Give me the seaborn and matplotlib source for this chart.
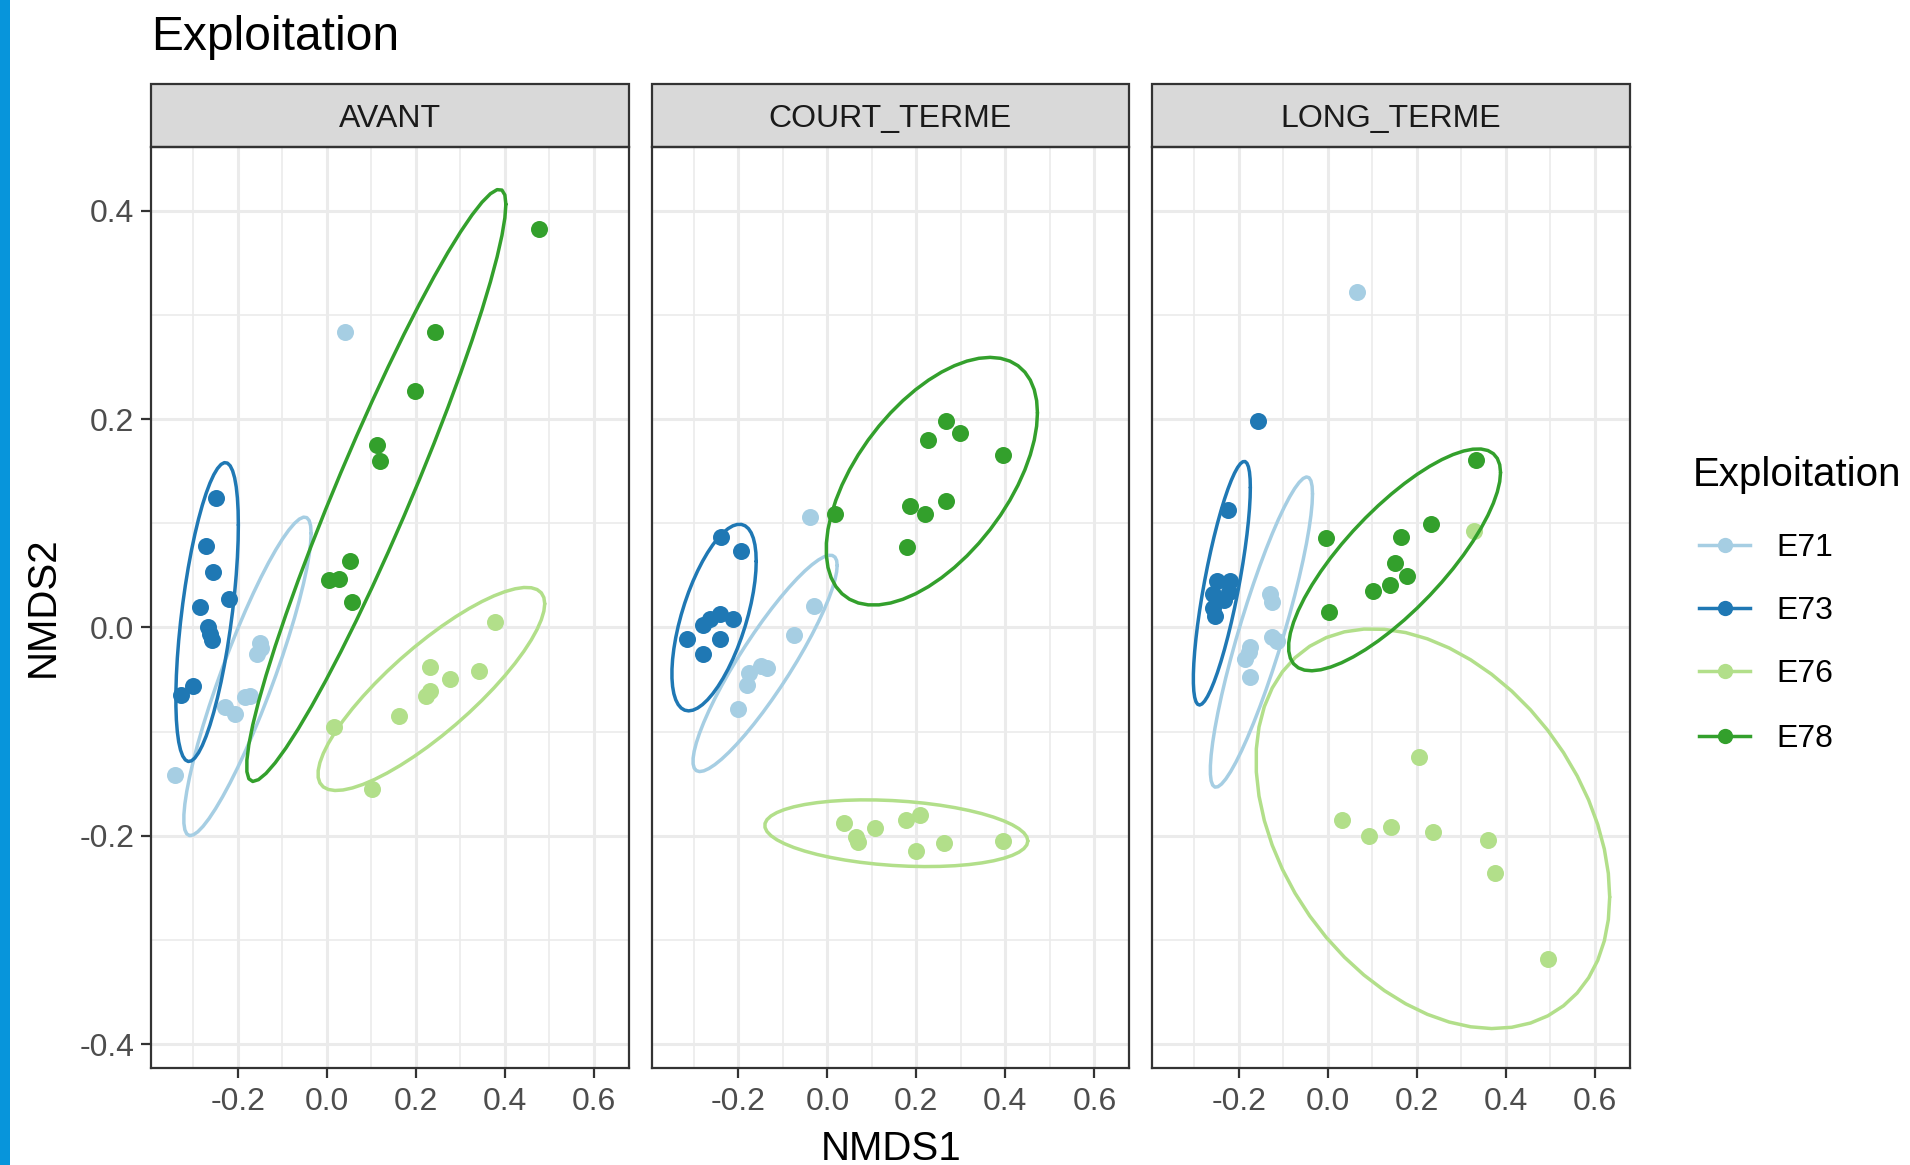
import numpy as np
import pandas as pd
import matplotlib
matplotlib.use("Agg")
import matplotlib.pyplot as plt
from matplotlib.patches import Rectangle
from matplotlib.lines import Line2D
import seaborn as sns

# ---------------- data ----------------
periods = ["AVANT", "COURT_TERME", "LONG_TERME"]
groups = ["E71", "E73", "E76", "E78"]
colors = ["#A6CEE3", "#1F78B4", "#B2DF8A", "#33A02C"]

avant_E71_x = [0.041, -0.151, -0.156, -0.148, -0.184, -0.172, -0.229, -0.206, -0.342]
avant_E71_y = [0.284, -0.015, -0.025, -0.020, -0.067, -0.066, -0.076, -0.083, -0.142]
avant_E73_x = [-0.248, -0.271, -0.256, -0.219, -0.285, -0.266, -0.262, -0.258, -0.300, -0.328]
avant_E73_y = [0.124, 0.078, 0.053, 0.0275, 0.0195, 0.0, -0.006, -0.012, -0.056, -0.065]
avant_E76_x = [0.377, 0.232, 0.278, 0.342, 0.233, 0.224, 0.162, 0.017, 0.102]
avant_E76_y = [0.005, -0.038, -0.049, -0.042, -0.061, -0.066, -0.085, -0.096, -0.155]
avant_E78_x = [0.477, 0.243, 0.198, 0.113, 0.120, 0.053, 0.004, 0.028, 0.056]
avant_E78_y = [0.383, 0.284, 0.227, 0.175, 0.160, 0.064, 0.046, 0.047, 0.024]

court_E71_x = [-0.038, -0.030, -0.075, -0.135, -0.150, -0.176, -0.180, -0.200]
court_E71_y = [0.106, 0.021, -0.007, -0.039, -0.037, -0.044, -0.055, -0.078]
court_E73_x = [-0.240, -0.194, -0.242, -0.264, -0.212, -0.279, -0.315, -0.242, -0.280]
court_E73_y = [0.087, 0.073, 0.013, 0.008, 0.008, 0.002, -0.011, -0.011, -0.025]
court_E76_x = [0.038, 0.064, 0.068, 0.107, 0.176, 0.208, 0.199, 0.263, 0.394]
court_E76_y = [-0.188, -0.201, -0.206, -0.193, -0.185, -0.180, -0.215, -0.207, -0.205]
court_E78_x = [0.266, 0.298, 0.225, 0.394, 0.017, 0.186, 0.220, 0.266, 0.180]
court_E78_y = [0.198, 0.187, 0.180, 0.166, 0.109, 0.117, 0.109, 0.121, 0.077]

long_E71_x = [0.066, -0.129, -0.126, -0.126, -0.115, -0.174, -0.178, -0.185, -0.174]
long_E71_y = [0.322, 0.032, 0.024, -0.009, -0.013, -0.019, -0.024, -0.030, -0.048]
long_E73_x = [-0.157, -0.224, -0.249, -0.219, -0.257, -0.223, -0.257, -0.234, -0.253]
long_E73_y = [0.198, 0.113, 0.045, 0.045, 0.032, 0.034, 0.019, 0.026, 0.0115]
long_E76_x = [0.329, 0.206, 0.032, 0.092, 0.143, 0.237, 0.361, 0.375, 0.494]
long_E76_y = [0.093, -0.124, -0.185, -0.200, -0.192, -0.196, -0.204, -0.236, -0.318]
long_E78_x = [0.332, -0.004, 0.164, 0.233, 0.152, 0.179, 0.139, 0.101, 0.002]
long_E78_y = [0.161, 0.086, 0.087, 0.099, 0.062, 0.049, 0.041, 0.035, 0.015]

x_ticks = [-0.2, 0.0, 0.2, 0.4, 0.6]
x_minor = [-0.3, -0.1, 0.1, 0.3, 0.5]
y_ticks = [-0.4, -0.2, 0.0, 0.2, 0.4]
y_minor = [-0.3, -0.1, 0.1, 0.3]

series = {
    ("AVANT", "E71"): (avant_E71_x, avant_E71_y),
    ("AVANT", "E73"): (avant_E73_x, avant_E73_y),
    ("AVANT", "E76"): (avant_E76_x, avant_E76_y),
    ("AVANT", "E78"): (avant_E78_x, avant_E78_y),
    ("COURT_TERME", "E71"): (court_E71_x, court_E71_y),
    ("COURT_TERME", "E73"): (court_E73_x, court_E73_y),
    ("COURT_TERME", "E76"): (court_E76_x, court_E76_y),
    ("COURT_TERME", "E78"): (court_E78_x, court_E78_y),
    ("LONG_TERME", "E71"): (long_E71_x, long_E71_y),
    ("LONG_TERME", "E73"): (long_E73_x, long_E73_y),
    ("LONG_TERME", "E76"): (long_E76_x, long_E76_y),
    ("LONG_TERME", "E78"): (long_E78_x, long_E78_y),
}
rows = []
for (per, grp), (xs, ys) in series.items():
    for a, b in zip(xs, ys):
        rows.append({"Periode": per, "Exploitation": grp, "NMDS1": a, "NMDS2": b})
df = pd.DataFrame(rows)

# ---------------- style ----------------
plt.rcParams["font.family"] = ["Liberation Sans", "DejaVu Sans"]
plt.rcParams["axes.unicode_minus"] = False

W, H = 1910, 1165
BORDER = "#333333"


def cov_trob(X, nu=5, maxit=25, tol=0.01):
    n, p = X.shape
    wt = np.ones(n)
    loc = X.mean(axis=0)
    w = np.sqrt(wt)
    Xc = X - loc
    for _ in range(maxit):
        w0 = w
        Xc = X - loc
        A = np.sqrt(w / w.sum())[:, None] * Xc
        _, d, Vt = np.linalg.svd(A, full_matrices=False)
        wX = Xc @ Vt.T @ np.diag(1.0 / d)
        Q = (wX ** 2).sum(axis=1)
        w = wt * (nu + p) / (nu + Q)
        loc = (w[:, None] * X).sum(axis=0) / w.sum()
        if np.all(np.abs(w - w0) < tol):
            break
    cov = (np.sqrt(w)[:, None] * Xc).T @ (np.sqrt(w)[:, None] * Xc) / wt.sum()
    return loc, cov


def draw_ellipse(data=None, color=None, label=None, **kws):
    X = data[["NMDS1", "NMDS2"]].to_numpy(float)
    n = X.shape[0]
    center, shape = cov_trob(X)
    L = np.linalg.cholesky(shape)
    d2 = n - 1
    qf = d2 / 2.0 * ((1 - 0.95) ** (-2.0 / d2) - 1)
    radius = np.sqrt(2 * qf)
    ang = np.arange(52) * 2 * np.pi / 51
    circ = np.column_stack([np.cos(ang), np.sin(ang)])
    pts = center + radius * (circ @ L.T)
    plt.gca().plot(pts[:, 0], pts[:, 1], color=color, lw=2.5, zorder=3,
                   solid_capstyle="round")


g = sns.FacetGrid(df, col="Periode", col_order=periods, hue="Exploitation",
                  hue_order=groups, palette=colors, sharex=True, sharey=True,
                  despine=False, height=4, aspect=0.6)
g.map_dataframe(sns.scatterplot, x="NMDS1", y="NMDS2", s=150, linewidth=0,
                zorder=2)
g.map_dataframe(draw_ellipse)
g.set_titles("")
g.set_axis_labels("", "")

fig = g.figure
fig.set_size_inches(W / 100, H / 100)
fig.patch.set_facecolor("white")

lefts = [151, 651.6, 1152]
pw = 477.5
top, bottom = 147.4, 1068
strip_h = 63.4 / (bottom - top)

for i, (ax, per) in enumerate(zip(g.axes.flat, periods)):
    ax.set_position([lefts[i] / W, 1 - bottom / H, pw / W, (bottom - top) / H])
    ax.set_xlim(-0.395, 0.678)
    ax.set_ylim(-0.423, 0.461)
    ax.set_facecolor("white")
    ax.set_xticks(x_ticks)
    ax.set_xticklabels([f"{v:.1f}" for v in x_ticks])
    ax.set_xticks(x_minor, minor=True)
    ax.set_yticks(y_ticks)
    ax.set_yticklabels([f"{v:.1f}" for v in y_ticks])
    ax.set_yticks(y_minor, minor=True)
    ax.set_axisbelow(True)
    ax.grid(which="major", color="#EBEBEB", lw=2.2)
    ax.grid(which="minor", color="#EBEBEB", lw=1.2)
    ax.tick_params(which="minor", length=0)
    ax.tick_params(which="major", length=7, width=1.6, color=BORDER,
                   labelsize=23, labelcolor="#4D4D4D")
    ax.tick_params(axis="x", pad=7)
    ax.tick_params(axis="y", pad=5)
    if i > 0:
        ax.tick_params(axis="y", left=False, labelleft=False)
    else:
        ax.tick_params(axis="y", labelleft=True)
    ax.tick_params(axis="x", labelbottom=True)
    for sp in ax.spines.values():
        sp.set_visible(True)
        sp.set_color(BORDER)
        sp.set_linewidth(1.6)
        sp.set_zorder(5)
    ax.add_patch(Rectangle((0, 1), 1, strip_h, transform=ax.transAxes,
                           clip_on=False, facecolor="#D9D9D9",
                           edgecolor=BORDER, lw=1.6, zorder=5))
    ax.text(0.5, 1 + strip_h / 2 - 3 / (bottom - top), per,
            transform=ax.transAxes, ha="center",
            va="center", fontsize=23, color="#1A1A1A", zorder=6)
    if ax.get_legend() is not None:
        ax.get_legend().remove()

# titles
fig.text(151 / W, 1 - 37 / H, "Exploitation", fontsize=34.5, ha="left",
         va="center", color="black")
fig.text(891 / W, 1 - 1149 / H, "NMDS1", fontsize=29, ha="center",
         va="center", color="black")
fig.text(42.6 / W, 1 - 607 / H, "NMDS2", fontsize=29, ha="center",
         va="center", rotation=90, color="black")

# legend
fig.text(1693 / W, 1 - 475 / H, "Exploitation", fontsize=29, ha="left",
         va="center", color="black")
leg_y = [545, 608, 671, 736]
for grp, col, yy in zip(groups, colors, leg_y):
    yf = 1 - yy / H
    fig.add_artist(Line2D([1699 / W, 1750 / W], [yf, yf], color=col, lw=2.5,
                          transform=fig.transFigure))
    fig.add_artist(Line2D([1724.5 / W], [yf], color=col, marker="o",
                          markersize=11, markeredgewidth=0, linestyle="none",
                          transform=fig.transFigure))
    fig.text(1776 / W, 1 - (yy + 3) / H, grp, fontsize=23, ha="left",
             va="center", color="black")

# left blue edge
fig.add_artist(Rectangle((0, 0), 10 / W, 1, transform=fig.transFigure,
                         facecolor="#0795DB", edgecolor="none"))

fig.savefig("out.png", dpi=100)
